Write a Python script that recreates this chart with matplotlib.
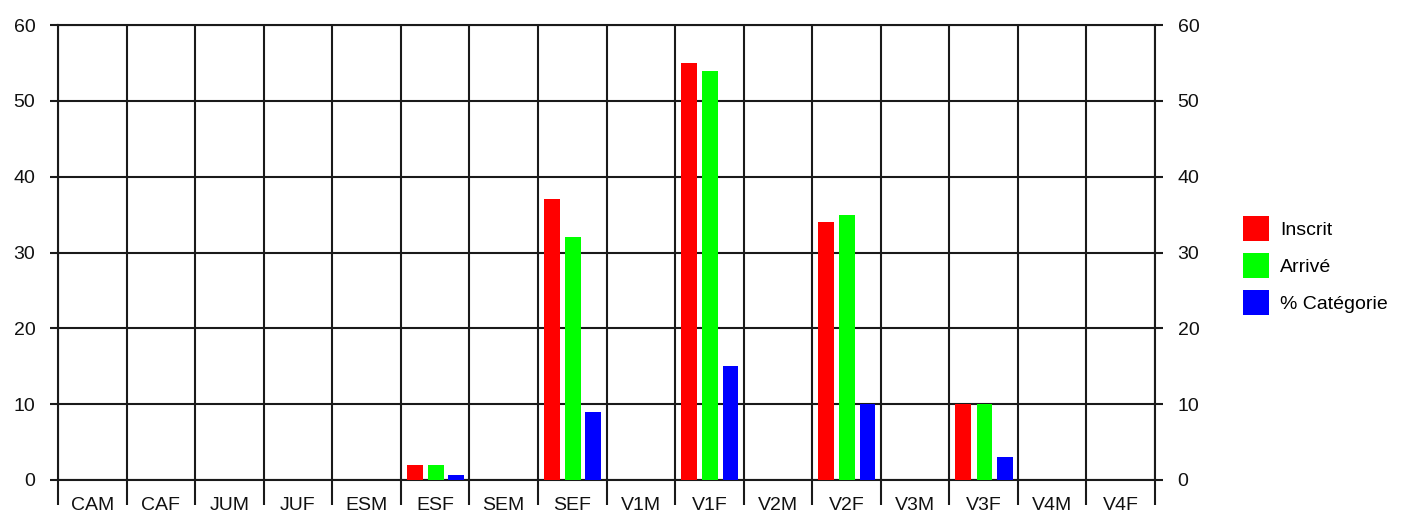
import matplotlib
matplotlib.use("Agg")
import matplotlib.pyplot as plt
import numpy as np
from matplotlib.patches import Patch

categories = ["CAM", "CAF", "JUM", "JUF", "ESM", "ESF", "SEM", "SEF",
              "V1M", "V1F", "V2M", "V2F", "V3M", "V3F", "V4M", "V4F"]
inscrit =   [0, 0, 0, 0, 0, 2,   0, 37, 0, 55, 0, 34, 0, 10, 0, 0]
arrive =    [0, 0, 0, 0, 0, 2,   0, 32, 0, 54, 0, 35, 0, 10, 0, 0]
categorie = [0, 0, 0, 0, 0, 0.6, 0, 9,  0, 15, 0, 10, 0, 3,  0, 0]
series_names = ["Inscrit", "Arrivé", "% Catégorie"]
series_colors = ["#FF0000", "#00FF00", "#0000FF"]
yticks = [0, 10, 20, 30, 40, 50, 60]

plt.rcParams['font.family'] = ['Liberation Sans', 'DejaVu Sans']
FS = 14
LC = "#1a1a1a"
LW = 1.5

fig = plt.figure(figsize=(14.02, 5.15), dpi=100)
ax = fig.add_axes([58/1402, 1-480/515, (1155-58)/1402, (480-25)/515])

n = len(categories)
x = np.arange(n) + 0.5
w = 0.23
offsets = [-0.297, 0.013, 0.307]
for vals, off, col in zip([inscrit, arrive, categorie], offsets, series_colors):
    ax.bar(x + off, vals, width=w, color=col, zorder=3)

ax.set_xlim(0, n)
ax.set_ylim(0, 60)
ax.set_yticks(yticks)
ax.set_yticklabels([str(v) for v in yticks])
ax.set_xticks(np.arange(n + 1))
ax.set_xticklabels([])
ax.set_xticks(x, minor=True)
ax.set_xticklabels(categories, minor=True)

ax.tick_params(axis='y', which='major', length=5.8, width=LW, color=LC,
               left=True, right=True, labelleft=True, labelright=True,
               labelsize=FS, pad=10.5, labelcolor="#111111")
ax.tick_params(axis='x', which='major', length=18, width=LW, color=LC)
ax.tick_params(axis='x', which='minor', length=0, pad=12, labelsize=FS,
               labelcolor="#111111")

ax.grid(True, which='major', color=LC, linewidth=LW, zorder=0)
ax.set_axisbelow(True)
for s in ax.spines.values():
    s.set_color(LC)
    s.set_linewidth(LW)

handles = [Patch(facecolor=c, edgecolor='none') for c in series_colors]
fig.legend(handles, series_names, loc='center left',
           bbox_to_anchor=(1243/1402, 1-265.5/515), frameon=False,
           fontsize=FS, handlelength=1.35, handleheight=1.6,
           handletextpad=0.55, labelspacing=0.63, borderpad=0,
           borderaxespad=0)

fig.savefig("out.png", dpi=100)
